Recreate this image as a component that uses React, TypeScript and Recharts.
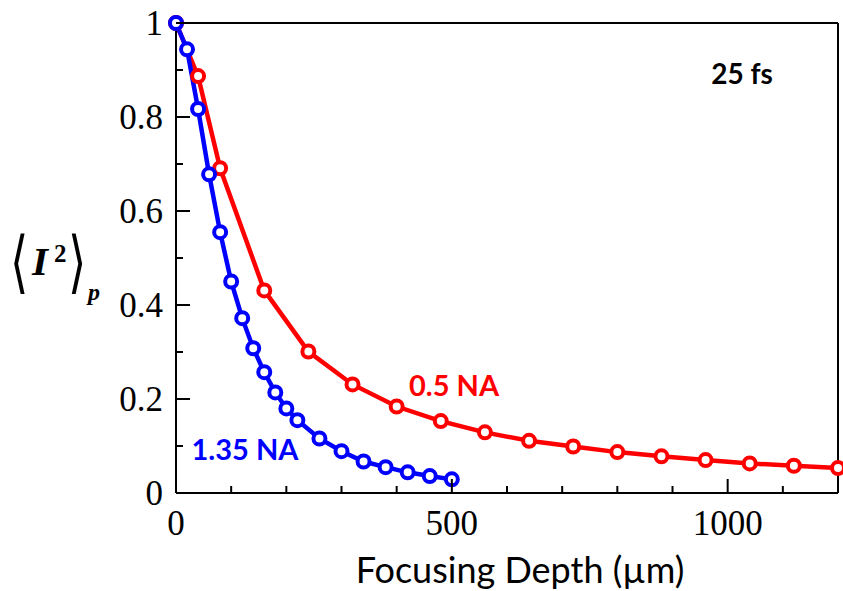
import { Line, LineChart, XAxis, YAxis } from 'recharts'

// focusing depth (µm) and normalised <I^2>_p for the two objectives
const depthLowNA = [0, 40, 80, 160, 240, 320, 400, 480, 560, 640, 720, 800, 880, 960, 1040, 1120, 1200]
const valueLowNA = [1.0, 0.887, 0.691, 0.431, 0.301, 0.231, 0.184, 0.153, 0.129, 0.111, 0.099, 0.087, 0.078, 0.07, 0.063, 0.058, 0.053]

const depthHighNA = [0, 20, 40, 60, 80, 100, 120, 140, 160, 180, 200, 220, 260, 300, 340, 380, 420, 460, 500]
const valueHighNA = [1.0, 0.944, 0.817, 0.678, 0.555, 0.45, 0.372, 0.308, 0.257, 0.214, 0.18, 0.155, 0.116, 0.089, 0.067, 0.055, 0.044, 0.036, 0.029]

const xTicks = [0, 100, 200, 300, 400, 500, 600, 700, 800, 900, 1000, 1100, 1200]
const xTickLabels = [0, 500, 1000]
const yTicks = [0, 0.1, 0.2, 0.3, 0.4, 0.5, 0.6, 0.7, 0.8, 0.9, 1]
const yTickLabels = [0, 0.2, 0.4, 0.6, 0.8, 1]

const lowNA = depthLowNA.map((x, i) => ({ x, y: valueLowNA[i] }))
const highNA = depthHighNA.map((x, i) => ({ x, y: valueHighNA[i] }))

const RED = '#FF0000'
const BLUE = '#0000FF'
const SERIF = '"Liberation Serif", "Times New Roman", serif'
const SANS = 'Lato, "Open Sans", sans-serif'
const TICK_FONT = 35
const MAJOR = 14
const MINOR = 7

const isLabel = (list: number[], v: number) => list.some((t) => Math.abs(t - v) < 1e-9)

// ticks point inward, labels only on the major ones
const BottomTick = (props: any) => {
  const { x, y, payload } = props
  const major = isLabel(xTickLabels, payload.value)
  return (
    <g>
      <line x1={x} x2={x} y1={y} y2={y - (major ? MAJOR : MINOR)} stroke="#000" strokeWidth={2} />
      {major && (
        <text x={x} y={y + 42} textAnchor="middle" fontFamily={SERIF} fontSize={TICK_FONT} fill="#000">
          {payload.value}
        </text>
      )}
    </g>
  )
}

const TopTick = (props: any) => {
  const { x, y, payload } = props
  const major = isLabel(xTickLabels, payload.value)
  return <line x1={x} x2={x} y1={y} y2={y + (major ? MAJOR : MINOR)} stroke="#000" strokeWidth={2} />
}

const LeftTick = (props: any) => {
  const { x, y, payload } = props
  const major = isLabel(yTickLabels, payload.value)
  return (
    <g>
      <line x1={x} x2={x + (major ? MAJOR : MINOR)} y1={y} y2={y} stroke="#000" strokeWidth={2} />
      {major && (
        <text x={x - 13} y={y} dy="0.34em" textAnchor="end" fontFamily={SERIF} fontSize={TICK_FONT} fill="#000">
          {payload.value}
        </text>
      )}
    </g>
  )
}

const RightTick = (props: any) => {
  const { x, y, payload } = props
  const major = isLabel(yTickLabels, payload.value)
  return <line x1={x} x2={x - (major ? MAJOR : MINOR)} y1={y} y2={y} stroke="#000" strokeWidth={2} />
}

export default function App() {
  const axisLine = { stroke: '#000', strokeWidth: 2 }
  return (
    <div style={{ position: 'absolute', left: 0, top: 0, width: 843, height: 591, background: '#fff' }}>
      <LineChart width={843} height={591} margin={{ top: 22, right: 4, bottom: 97, left: 175 }}>
        <XAxis
          dataKey="x"
          type="number"
          domain={[0, 1200]}
          ticks={xTicks}
          interval={0}
          height={1}
          tickSize={0}
          tickMargin={0}
          tickLine={false}
          axisLine={axisLine}
          tick={<BottomTick />}
        />
        <XAxis
          xAxisId="top"
          orientation="top"
          type="number"
          domain={[0, 1200]}
          ticks={xTicks}
          interval={0}
          height={1}
          tickSize={0}
          tickMargin={0}
          tickLine={false}
          axisLine={axisLine}
          tick={<TopTick />}
        />
        <YAxis
          type="number"
          domain={[0, 1]}
          ticks={yTicks}
          interval={0}
          width={1}
          tickSize={0}
          tickMargin={0}
          tickLine={false}
          axisLine={axisLine}
          tick={<LeftTick />}
        />
        <YAxis
          yAxisId="right"
          orientation="right"
          type="number"
          domain={[0, 1]}
          ticks={yTicks}
          interval={0}
          width={1}
          tickSize={0}
          tickMargin={0}
          tickLine={false}
          axisLine={axisLine}
          tick={<RightTick />}
        />
        <Line
          data={lowNA}
          dataKey="y"
          type="linear"
          stroke={RED}
          strokeWidth={4.5}
          dot={{ r: 6, stroke: RED, strokeWidth: 4, fill: '#fff' }}
          isAnimationActive={false}
        />
        <Line
          data={highNA}
          dataKey="y"
          type="linear"
          stroke={BLUE}
          strokeWidth={4.5}
          dot={{ r: 6, stroke: BLUE, strokeWidth: 4, fill: '#fff' }}
          isAnimationActive={false}
        />
      </LineChart>

      <svg width={843} height={591} style={{ position: 'absolute', left: 0, top: 0, pointerEvents: 'none' }}>
        {/* y axis label <I^2>_p */}
        <text
          transform="translate(10,285) scale(0.9,1.3)"
          fontFamily='"DejaVu Sans", sans-serif'
          fontSize={52}
          fontWeight={200}
          fill="#000"
        >
          ⟨
        </text>
        <text x={32} y={275} fontFamily={SERIF} fontSize={41} fontWeight="bold" fontStyle="italic" fill="#000">
          I
        </text>
        <text x={54} y={262} fontFamily={SERIF} fontSize={25} fontWeight="bold" fill="#000">
          2
        </text>
        <text
          transform="translate(68,285) scale(0.9,1.3)"
          fontFamily='"DejaVu Sans", sans-serif'
          fontSize={52}
          fontWeight={200}
          fill="#000"
        >
          ⟩
        </text>
        <text x={88} y={300} fontFamily={SERIF} fontSize={24} fontWeight="bold" fontStyle="italic" fill="#000">
          p
        </text>

        <text x={520} y={583} textAnchor="middle" fontFamily={SANS} fontSize={36} fill="#000">
          Focusing Depth (µm)
        </text>

        <text x={742} y={84} textAnchor="middle" fontFamily={SANS} fontSize={28} fontWeight="bold" fill="#000">
          25 fs
        </text>
        <text x={454} y={396} textAnchor="middle" fontFamily={SANS} fontSize={29} fontWeight="bold" fill={RED}>
          0.5 NA
        </text>
        <text x={245} y={460} textAnchor="middle" fontFamily={SANS} fontSize={29} fontWeight="bold" fill={BLUE}>
          1.35 NA
        </text>
      </svg>
    </div>
  )
}
